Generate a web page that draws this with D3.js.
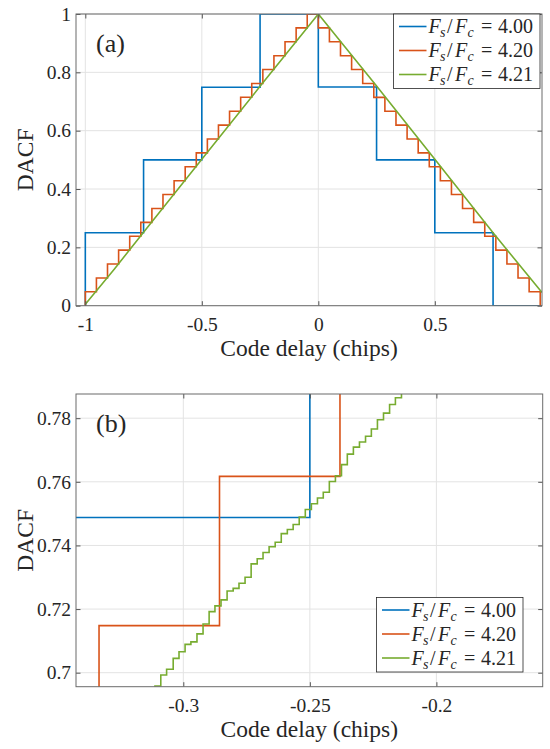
<!DOCTYPE html>
<html lang="en">
<head>
<meta charset="UTF-8">
<title>DACF vs code delay</title>
<script src="https://d3js.org/d3.v7.min.js"></script>
<style>
  body { margin: 0; background: #fff; }
  text { font-family: "Liberation Serif", "Times New Roman", serif; fill: #262626; }
</style>
</head>
<body>
<script>
// ---- data ----
// Fs/Fc = 4.00 : step edges (chips) and level on each step
const blueEdges = [-1, -0.75, -0.5, -0.25, 0, 0.25, 0.5, 0.75, 0.96];
const blueValues = [0.25, 0.5, 0.7488, 1, 0.75, 0.5, 0.25, 0];

// Fs/Fc = 4.20
const orangeEdges = [-1, -0.9524, -0.9048, -0.8571, -0.8095, -0.7619, -0.7143, -0.6667, -0.6190,
  -0.5714, -0.5238, -0.4762, -0.4286, -0.3810, -0.3333, -0.2857, -0.2381, -0.1905, -0.1429,
  -0.0952, -0.0476, 0, 0.0476, 0.0952, 0.1429, 0.1905, 0.2381, 0.2857, 0.3333, 0.3810, 0.4286,
  0.4762, 0.5238, 0.5714, 0.6190, 0.6667, 0.7143, 0.7619, 0.8095, 0.8571, 0.9048, 0.9524, 0.96];
const orangeValues = [0.0476, 0.0952, 0.1429, 0.1905, 0.2381, 0.2857, 0.3333, 0.3810, 0.4286,
  0.4762, 0.5238, 0.5714, 0.6190, 0.6667, 0.7148, 0.7617, 0.8095, 0.8571, 0.9048, 0.9524, 1,
  0.9524, 0.9048, 0.8571, 0.8095, 0.7619, 0.7143, 0.6667, 0.6190, 0.5714, 0.5238, 0.4762,
  0.4286, 0.3810, 0.3333, 0.2857, 0.2381, 0.1905, 0.1429, 0.0952, 0.0476, 0];

// Fs/Fc = 4.21, full view (a)
const greenX = [-1, -0.875, -0.75, -0.5, -0.25, 0, 0.25, 0.5, 0.75, 0.96];
const greenY = [0.005, 0.126, 0.252, 0.502, 0.752, 1, 0.753, 0.502, 0.25, 0.045];

// Fs/Fc = 4.21, zoomed view (b): fine steps
const greenDetailEdges = [-0.3136, -0.3112, -0.3089, -0.3066, -0.3040, -0.3017, -0.2993, -0.2970,
  -0.2946, -0.2922, -0.2898, -0.2875, -0.2851, -0.2827, -0.2803, -0.2780, -0.2756, -0.2732,
  -0.2708, -0.2685, -0.2661, -0.2637, -0.2613, -0.2589, -0.2566, -0.2542, -0.2518, -0.2494,
  -0.2470, -0.2447, -0.2423, -0.2399, -0.2375, -0.2352, -0.2328, -0.2304, -0.2280, -0.2257,
  -0.2233, -0.2209, -0.2185, -0.2162, -0.2138, -0.2114];
const greenDetailValues = [0.6930, 0.6958, 0.6993, 0.7011, 0.7045, 0.7066, 0.7089, 0.7097,
  0.7122, 0.7153, 0.7192, 0.7210, 0.7229, 0.7257, 0.7265, 0.7281, 0.7300, 0.7342, 0.7358,
  0.7378, 0.7396, 0.7410, 0.7437, 0.7450, 0.7466, 0.7489, 0.7513, 0.7531, 0.7549, 0.7567,
  0.7601, 0.7619, 0.7654, 0.7687, 0.7709, 0.7725, 0.7743, 0.7766, 0.7795, 0.7816, 0.7843,
  0.7864, 0.7890];

const legendValues = ['4.00', '4.20', '4.21'];
const colors = ['#0072BD', '#D95319', '#77AC30'];

const xTicksA = [-1, -0.5, 0, 0.5];
const xLabelsA = ['-1', '-0.5', '0', '0.5'];
const yTicksA = [0, 0.2, 0.4, 0.6, 0.8, 1];
const yLabelsA = ['0', '0.2', '0.4', '0.6', '0.8', '1'];
const xTicksB = [-0.3, -0.25, -0.2];
const xLabelsB = ['-0.3', '-0.25', '-0.2'];
const yTicksB = [0.7, 0.72, 0.74, 0.76, 0.78];
const yLabelsB = ['0.7', '0.72', '0.74', '0.76', '0.78'];

const W = 550, H = 749;
const svg = d3.select('body').append('svg').attr('width', W).attr('height', H);

// stairs: vertical jump at each edge, flat across each step
function stairs(edges, vals, start) {
  const pts = [[edges[0], start]];
  vals.forEach((v, i) => { pts.push([edges[i], v]); pts.push([edges[i + 1], v]); });
  return pts;
}

function panel(opt) {
  const x = d3.scaleLinear().domain(opt.xDomain).range([opt.left, opt.right]);
  const y = d3.scaleLinear().domain(opt.yDomain).range([opt.bottom, opt.top]);
  const g = svg.append('g');
  const clipId = 'clip-' + opt.name;
  svg.append('clipPath').attr('id', clipId).append('rect')
    .attr('x', opt.left).attr('y', opt.top)
    .attr('width', opt.right - opt.left).attr('height', opt.bottom - opt.top);

  // grid
  g.selectAll('.gx').data(opt.xTicks).enter().append('line')
    .attr('x1', d => x(d)).attr('x2', d => x(d))
    .attr('y1', opt.top).attr('y2', opt.bottom)
    .attr('stroke', '#e3e3e3').attr('stroke-width', 1);
  g.selectAll('.gy').data(opt.yTicks).enter().append('line')
    .attr('y1', d => y(d)).attr('y2', d => y(d))
    .attr('x1', opt.left).attr('x2', opt.right)
    .attr('stroke', '#e3e3e3').attr('stroke-width', 1);

  // series
  const line = d3.line().x(d => x(d[0])).y(d => y(d[1]));
  const lines = g.append('g').attr('clip-path', `url(#${clipId})`)
    .attr('fill', 'none').attr('stroke-width', 1.6).attr('stroke-linejoin', 'miter');
  lines.append('path').attr('d', line(stairs(blueEdges, blueValues, 0))).attr('stroke', colors[0]);
  lines.append('path').attr('d', line(stairs(orangeEdges, orangeValues, 0))).attr('stroke', colors[1]);
  lines.append('path').attr('d', line(opt.green)).attr('stroke', colors[2]);

  // axes with inward ticks
  const tk = 4.5;
  const ax = g.append('g').attr('class', 'axes');
  const bottom = ax.append('g').attr('transform', `translate(0,${opt.bottom})`)
    .call(d3.axisBottom(x).tickValues(opt.xTicks).tickFormat((d, i) => opt.xLabels[i])
      .tickSize(-tk).tickPadding(11));
  const left = ax.append('g').attr('transform', `translate(${opt.left},0)`)
    .call(d3.axisLeft(y).tickValues(opt.yTicks).tickFormat((d, i) => opt.yLabels[i])
      .tickSize(-tk).tickPadding(5));
  ax.append('g').attr('transform', `translate(0,${opt.top})`)
    .call(d3.axisTop(x).tickValues(opt.xTicks).tickFormat('').tickSize(-tk));
  ax.append('g').attr('transform', `translate(${opt.right},0)`)
    .call(d3.axisRight(y).tickValues(opt.yTicks).tickFormat('').tickSize(-tk));
  ax.selectAll('.domain').remove();
  ax.selectAll('.tick line').attr('stroke', '#555');
  ax.selectAll('.tick text').attr('font-size', 19.5).attr('fill', '#262626')
    .attr('font-family', '"Liberation Serif", serif');
  g.append('rect').attr('x', opt.left).attr('y', opt.top)
    .attr('width', opt.right - opt.left).attr('height', opt.bottom - opt.top)
    .attr('fill', 'none').attr('stroke', '#6b6b6b').attr('stroke-width', 1);

  // labels
  g.append('text').attr('x', (opt.left + opt.right) / 2).attr('y', opt.bottom + 50)
    .attr('text-anchor', 'middle').attr('font-size', 23.5).text('Code delay (chips)');
  g.append('text').attr('transform', `translate(33,${(opt.top + opt.bottom) / 2}) rotate(-90)`)
    .attr('text-anchor', 'middle').attr('font-size', 23.5).text('DACF');
  g.append('text').attr('x', opt.left + 20).attr('y', opt.top + 38)
    .attr('font-size', 26).text(opt.tag);

  // legend
  const lg = g.append('g').attr('transform', `translate(${opt.legX},${opt.legY})`);
  lg.append('rect').attr('width', 146.5).attr('height', 74.5)
    .attr('fill', '#fff').attr('stroke', '#262626').attr('stroke-width', 0.8);
  legendValues.forEach((v, i) => {
    const cy = 12.5 + i * 24;
    lg.append('line').attr('x1', 5.5).attr('x2', 33).attr('y1', cy).attr('y2', cy)
      .attr('stroke', colors[i]).attr('stroke-width', 1.6);
    const t = lg.append('text').attr('y', cy + 6.5).attr('font-size', 20);
    t.append('tspan').attr('x', 35).attr('font-style', 'italic').text('F');
    t.append('tspan').attr('x', 46.5).attr('dy', 4).attr('font-size', 14).attr('font-style', 'italic').text('s');
    t.append('tspan').attr('x', 53.5).attr('dy', -4).text('/');
    t.append('tspan').attr('x', 61.5).attr('font-style', 'italic').text('F');
    t.append('tspan').attr('x', 74).attr('dy', 4).attr('font-size', 14).attr('font-style', 'italic').text('c');
    t.append('tspan').attr('x', 87.5).attr('dy', -4).text('=');
    t.append('tspan').attr('x', 104.5).text(v);
  });
}

panel({
  name: 'a', tag: '(a)',
  left: 76, right: 542, top: 14, bottom: 305.7,
  xDomain: [-1.04, 0.96], yDomain: [0, 1],
  xTicks: xTicksA, xLabels: xLabelsA, yTicks: yTicksA, yLabels: yLabelsA,
  green: greenX.map((d, i) => [d, greenY[i]]),
  legX: 393.5, legY: 14
});

panel({
  name: 'b', tag: '(b)',
  left: 76, right: 542.7, top: 394, bottom: 686.7,
  xDomain: [-0.3424, -0.158], yDomain: [0.6956, 0.7876],
  xTicks: xTicksB, xLabels: xLabelsB, yTicks: yTicksB, yLabels: yLabelsB,
  green: stairs(greenDetailEdges, greenDetailValues, 0.69),
  legX: 376.5, legY: 597.5
});
</script>
</body>
</html>
